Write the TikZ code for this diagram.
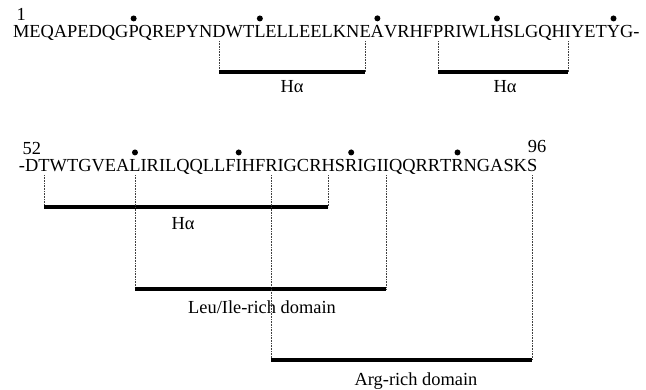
\documentclass[tikz,border=0pt]{standalone}
\usepackage{fontspec}
\setmainfont{Liberation Serif}
\usetikzlibrary{positioning}

\tikzset{
  res/.style={inner sep=0pt, outer sep=0pt, anchor=base west, font=\fontsize{18.4}{20}\selectfont},
  lbl/.style={inner sep=0pt, outer sep=0pt, font=\fontsize{18.4}{20}\selectfont},
  tenth/.style={circle, fill, inner sep=0pt, minimum size=6pt},
  segbar/.style={line width=3.6pt},
  guide/.style={densely dotted, line width=0.6pt, black!75},
}

\begin{document}
\begin{tikzpicture}[x=1pt, y=-1pt]
  \useasboundingbox (0,0) rectangle (646,389);
  % first line, residues 1-51
  \coordinate (prev) at (13,37);
  \foreach \a [count=\i] in {M,E,Q,A,P,E,D,Q,G,P,Q,R,E,P,Y,N,D,W,T,L,E,L,L,E,E,L,K,N,E,A,V,R,H,F,P,R,I,W,L,H,S,L,G,Q,H,I,Y,E,T,Y,G}{
    \node[res] (r\i) at (prev) {\a};
    \coordinate (prev) at (r\i.base east);
  }
  \node[res] (dash1) at (prev) {-};
  % second line, residues 52-96
  \node[res] (dash2) at (19,171) {-};
  \coordinate (prev) at (dash2.base east);
  \foreach \a [count=\i from 52] in {D,T,W,T,G,V,E,A,L,I,R,I,L,Q,Q,L,L,F,I,H,F,R,I,G,C,R,H,S,R,I,G,I,I,Q,Q,R,R,T,R,N,G,A,S,K,S}{
    \node[res] (r\i) at (prev) {\a};
    \coordinate (prev) at (r\i.base east);
  }
  % every tenth residue
  \foreach \i in {10,20,...,90}
    \node[tenth] (dot\i) at ([yshift=6.5pt]r\i.north) {};
  \node[lbl, anchor=south] (n1) at ([yshift=4pt]r1.north) {1};
  \node[lbl, anchor=south] (n52) at ([yshift=4pt]r52.north) {52};
  \node[lbl, anchor=south] (n96) at ([xshift=5pt, yshift=6pt]r96.north) {96};
  % segments
  \foreach \a/\b/\y in {17/29/72, 35/46/72, 53/78/207, 60/84/289, 73/96/360}{
    \draw[guide] ([yshift=-4pt]r\a.base) -- (r\a.base |- 0,\y);
    \draw[guide] ([yshift=-4pt]r\b.base) -- (r\b.base |- 0,\y);
    \draw[segbar] (r\a.base |- 0,\y) -- (r\b.base |- 0,\y);
  }
  \node[lbl] (h1) at (292,87) {Hα};
  \node[lbl] (h2) at (505,87) {Hα};
  \node[lbl] (h3) at (183,224) {Hα};
  \node[lbl] (leu) at (262,307) {Leu/Ile-rich domain};
  \node[lbl] (arg) at (416,381) {Arg-rich domain};
\end{tikzpicture}
\end{document}
